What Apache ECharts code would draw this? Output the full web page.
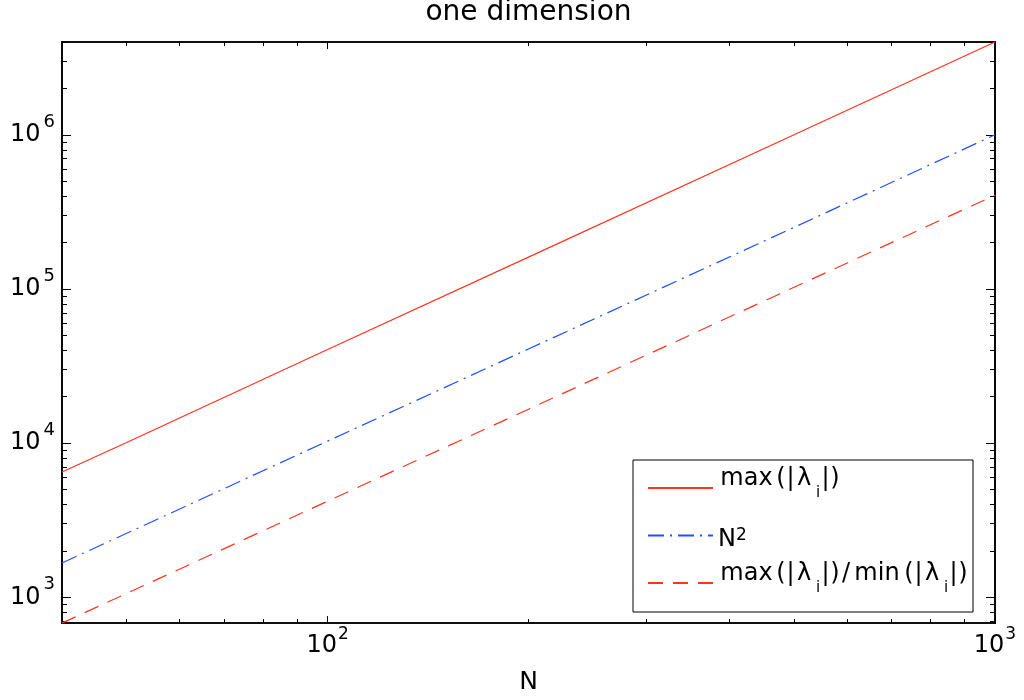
<!DOCTYPE html>
<html>
<head>
<meta charset="utf-8">
<script src="https://cdn.jsdelivr.net/npm/echarts@6/dist/echarts.min.js"></script>
<style>html,body{margin:0;padding:0;background:#fff;}#c{width:1024px;height:700px;}</style>
</head>
<body>
<div id="c"></div>
<script>
// ---- data ----
const nValues   = [40, 50, 100, 200, 500, 1000];
const maxEig    = [6500, 10100, 40500, 161000, 1000000, 4000000];
const nSquared  = [1670, 2600, 10300, 40800, 251000, 1000000];
const condNum   = [680, 1060, 4200, 16600, 102600, 406000];
const seriesNames = ['max(|λi|)', 'N^2', 'max(|λi|)/min(|λi|)'];
const xRange = [40, 1000];
const yRange = [680, 4000000];
const xMajorTicks = [100, 1000];
const xMinorTicks = [50, 60, 70, 80, 90, 200, 300, 400, 500, 600, 700, 800, 900];
const yMajorTicks = [1000, 10000, 100000, 1000000];
const yMinorTicks = [700, 800, 900, 2000, 3000, 4000, 5000, 6000, 7000, 8000, 9000,
  20000, 30000, 40000, 50000, 60000, 70000, 80000, 90000,
  200000, 300000, 400000, 500000, 600000, 700000, 800000, 900000,
  2000000, 3000000, 4000000];
const titleText = 'one dimension';
const xName = 'N';

const FONT = 'DejaVu Sans';
const pair = (ys) => nValues.map((n, i) => [n, ys[i]]);
const supFmt = (v) => '{b|10}{s|' + Math.round(Math.log10(v)) + '}';

function xAxisDef(pos, ticks, len, labels) {
  return {
    type: 'log', logBase: 10, position: pos, min: xRange[0], max: xRange[1],
    name: labels ? xName : '', nameLocation: 'middle', nameGap: 46,
    nameTextStyle: { fontFamily: FONT, fontSize: 25, color: '#000' },
    axisLine: { show: true, onZero: false, lineStyle: { color: '#000', width: 1.6 } },
    axisTick: { show: true, inside: true, length: len, customValues: ticks, lineStyle: { color: '#000', width: 1 } },
    axisLabel: labels ? {
      show: true, customValues: xMajorTicks, margin: 10.5, formatter: supFmt, color: '#000',
      rich: {
        b: { fontFamily: FONT, fontSize: 24, lineHeight: 24, color: '#000' },
        s: { fontFamily: FONT, fontSize: 17, lineHeight: 17, padding: [0, 0, 22, 1], color: '#000' }
      }
    } : { show: false },
    splitLine: { show: false }, minorTick: { show: false }, minorSplitLine: { show: false }
  };
}
function yAxisDef(pos, ticks, len, labels) {
  return {
    type: 'log', logBase: 10, position: pos, min: yRange[0], max: yRange[1],
    axisLine: { show: true, onZero: false, lineStyle: { color: '#000', width: 1.6 } },
    axisTick: { show: true, inside: true, length: len, customValues: ticks, lineStyle: { color: '#000', width: 1 } },
    axisLabel: labels ? {
      show: true, customValues: yMajorTicks, margin: 7, formatter: supFmt, color: '#000',
      rich: {
        b: { fontFamily: FONT, fontSize: 24, lineHeight: 24, color: '#000' },
        s: { fontFamily: FONT, fontSize: 18, lineHeight: 18, padding: [0, 0, 25, 3], color: '#000' }
      }
    } : { show: false },
    splitLine: { show: false }, minorTick: { show: false }, minorSplitLine: { show: false }
  };
}

// legend text built from rich tokens
const legendRich = {
  n: { fontFamily: FONT, fontSize: 24, lineHeight: 24, padding: [8, 0, 0, 0], color: '#000' },
  p: { fontFamily: FONT, fontSize: 17, lineHeight: 17, color: '#000' }
};
function tok(text, width, sub) {
  const key = (sub ? 's' : 'm') + String(width).replace('.', '_');
  if (!legendRich[key]) {
    legendRich[key] = sub
      ? { fontFamily: FONT, fontSize: 15, lineHeight: 15, padding: [10, 0, 0, 0], width: width, align: 'center', color: '#000' }
      : { fontFamily: FONT, fontSize: 24, lineHeight: 24, padding: [0, 0, 19, 0], width: width, align: 'center', color: '#000' };
  }
  return '{' + key + '|' + text + '}';
}
const lamPart = tok('(', 12) + tok('|', 7) + tok('λ', 20) + tok('i', 8, true) + tok('|', 7) + tok(')', 12);
const legendText = {};
legendText[seriesNames[0]] = tok('max', 57) + lamPart;
legendText[seriesNames[1]] = '{n|N}{p|2}';
legendText[seriesNames[2]] = tok('max', 57) + lamPart + tok('/', 10) + tok('min', 52) + lamPart;

const chart = echarts.init(document.getElementById('c'), null, { renderer: 'canvas' });
chart.setOption({
  animation: false,
  backgroundColor: '#fff',
  title: {
    text: titleText, left: 528.5, top: -1.5, padding: 0, textAlign: 'center',
    textStyle: { fontFamily: FONT, fontSize: 28, fontWeight: 'normal', color: '#000' }
  },
  grid: { left: 62, right: 29, top: 42, bottom: 71 },
  xAxis: [
    xAxisDef('bottom', xMajorTicks, 7, true),
    xAxisDef('top', xMajorTicks, 7, false),
    xAxisDef('bottom', xMinorTicks, 4, false),
    xAxisDef('top', xMinorTicks, 4, false)
  ],
  yAxis: [
    yAxisDef('left', yMajorTicks, 9, true),
    yAxisDef('right', yMajorTicks, 9, false),
    yAxisDef('left', yMinorTicks, 5, false),
    yAxisDef('right', yMinorTicks, 5, false)
  ],
  legend: {
    orient: 'vertical', left: 633, top: 460,
    itemWidth: 65, itemHeight: 14, itemGap: 10,
    padding: [6.5, 4, 7.5, 14],
    borderColor: '#000', borderWidth: 1, backgroundColor: '#fff',
    selectedMode: false,
    data: seriesNames,
    itemStyle: { opacity: 0 },
    formatter: (name) => legendText[name],
    textStyle: { fontFamily: FONT, color: '#000', rich: legendRich }
  },
  series: [
    { name: seriesNames[0], type: 'line', data: pair(maxEig), symbol: 'none', clip: true,
      lineStyle: { color: '#ff3320', width: 1.2, type: 'solid' }, itemStyle: { color: '#ff3320' } },
    { name: seriesNames[1], type: 'line', data: pair(nSquared), symbol: 'none', clip: true,
      lineStyle: { color: '#2050ff', width: 1.2, type: [16, 6, 2, 6] }, itemStyle: { color: '#2050ff' } },
    { name: seriesNames[2], type: 'line', data: pair(condNum), symbol: 'none', clip: true,
      lineStyle: { color: '#ff3320', width: 1.2, type: [15, 10] }, itemStyle: { color: '#ff3320' } }
  ]
});
</script>
</body>
</html>
